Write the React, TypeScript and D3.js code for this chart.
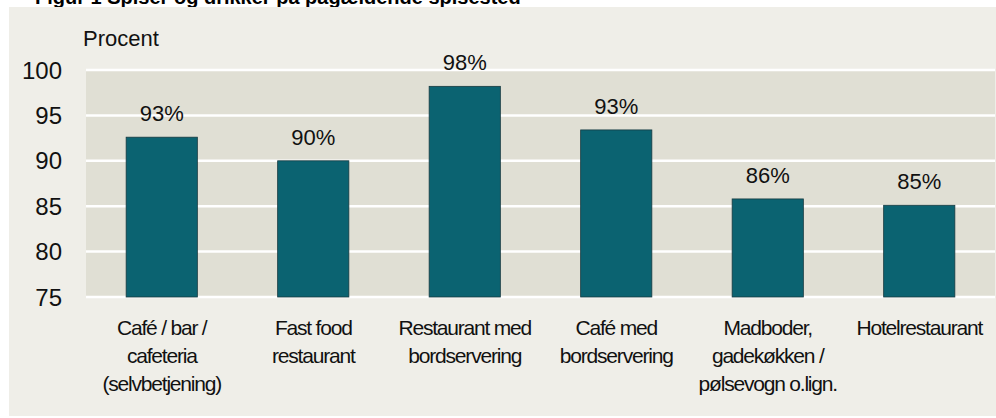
import React from "react";
import * as d3 from "d3";

const categories: string[][] = [
  ["Café / bar /", "cafeteria", "(selvbetjening)"],
  ["Fast food", "restaurant"],
  ["Restaurant med", "bordservering"],
  ["Café med", "bordservering"],
  ["Madboder,", "gadekøkken /", "pølsevogn o.lign."],
  ["Hotelrestaurant"],
];
const values: number[] = [92.6, 90.0, 98.2, 93.4, 85.8, 85.1];
const valueLabels: string[] = ["93%", "90%", "98%", "93%", "86%", "85%"];
const yTicks: number[] = [75, 80, 85, 90, 95, 100];
const yTitle = "Procent";
const title = "Figur 1  Spiser og drikker på pågældende spisested";

export default function App() {
  const W = 996;
  const H = 418;
  const plot = { left: 86, right: 995, top: 70, bottom: 297 };
  const x = d3
    .scaleBand<number>()
    .domain(d3.range(values.length))
    .range([plot.left, plot.right])
    .paddingInner(0.53)
    .paddingOuter(0.265);
  const y = d3.scaleLinear().domain([75, 100]).range([plot.bottom, plot.top]);
  const font = "'Liberation Sans', Arial, sans-serif";

  return (
    <svg
      width={W}
      height={H}
      style={{ position: "absolute", left: 0, top: 0, background: "#ffffff" }}
      fontFamily={font}
    >
      <text x={35} y={4} fontSize={20} fontWeight="bold" fill="#000">
        {title}
      </text>
      <rect x={9} y={7} width={W - 9} height={409} fill="#EFEEE8" />
      <rect
        x={plot.left}
        y={plot.top}
        width={plot.right - plot.left}
        height={plot.bottom - plot.top}
        fill="#E0DFD4"
      />
      {yTicks.map((t) => (
        <g key={t}>
          <line
            x1={plot.left}
            x2={plot.right}
            y1={y(t)}
            y2={y(t)}
            stroke="#ffffff"
            strokeWidth={2.5}
          />
          <text
            x={62}
            y={y(t)}
            dy="0.36em"
            textAnchor="end"
            fontSize={24}
            fill="#111"
          >
            {t}
          </text>
        </g>
      ))}
      <text x={83} y={46} fontSize={22} fill="#111">
        {yTitle}
      </text>
      {values.map((v, i) => {
        const bx = x(i)!;
        const bw = x.bandwidth();
        return (
          <g key={i}>
            <rect
              x={bx}
              y={y(v)}
              width={bw}
              height={y(75) - y(v)}
              fill="#0B6371"
              stroke="#173A40"
              strokeWidth={0.8}
            />
            <text
              x={bx + bw / 2}
              y={y(v) - 16}
              textAnchor="middle"
              fontSize={22}
              fill="#111"
            >
              {valueLabels[i]}
            </text>
            {categories[i].map((line, j) => (
              <text
                key={j}
                x={bx + bw / 2}
                y={335 + j * 28}
                textAnchor="middle"
                fontSize={21}
                letterSpacing={-1.2}
                fill="#111"
              >
                {line}
              </text>
            ))}
          </g>
        );
      })}
    </svg>
  );
}
